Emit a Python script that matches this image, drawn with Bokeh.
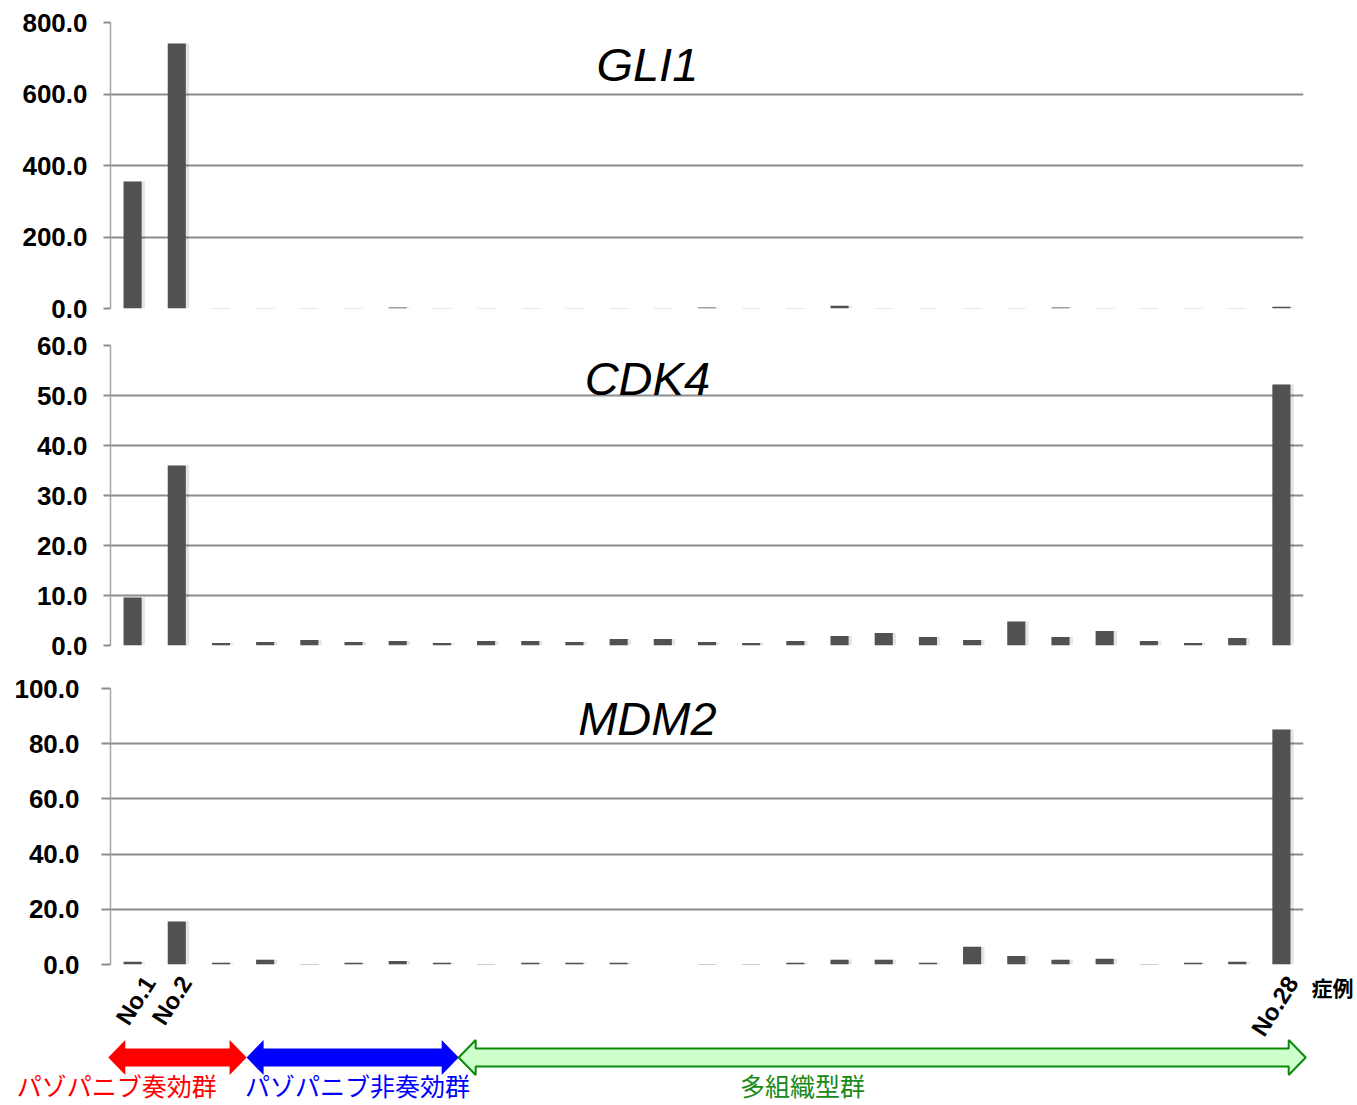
from bokeh.plotting import figure
from bokeh.layouts import column
from bokeh.models import Range1d, FixedTicker, PrintfTickFormatter, Label
from bokeh.transform import dodge
from bokeh.embed import file_html
from bokeh.resources import INLINE

# ---------------- data ----------------
bar_index = list(range(1, 28))          # 27 cases shown (No.1 ... No.28)
gli1 = [355, 741, 1.0, 1.0, 1.0, 1.0, 3.0, 1.0, 1.0, 1.0, 1.0, 1.0, 1.0, 2.5,
        1.0, 1.0, 8.0, 1.0, 1.0, 1.0, 1.0, 2.5, 1.0, 1.0, 1.0, 1.0, 5.0]
cdk4 = [9.6, 36.0, 0.5, 0.7, 1.1, 0.7, 0.9, 0.5, 0.9, 0.9, 0.7, 1.3, 1.3, 0.7,
        0.5, 0.9, 1.9, 2.5, 1.7, 1.1, 4.8, 1.7, 2.9, 0.9, 0.5, 1.5, 52.2]
mdm2 = [1.0, 15.6, 0.6, 1.7, 0.2, 0.6, 1.3, 0.6, 0.2, 0.6, 0.6, 0.6, 0.0, 0.2,
        0.2, 0.6, 1.7, 1.7, 0.6, 6.4, 3.1, 1.7, 2.1, 0.2, 0.6, 1.0, 85.1]
genes = ["GLI1", "CDK4", "MDM2"]
y_max = [800, 60, 100]
y_step = [200, 10, 20]
title_y = [682, 53.4, 89]
title_x = 12.15

case_labels = ["No.1", "No.2", "No.28"]
case_label_bar = [1, 2, 27]
axis_word = "症例"
axis_word_x = 27.18

group_names = ["パゾパニブ奏効群", "パゾパニブ非奏効群", "多組織型群"]
group_start = [-0.05, 3.08, 7.88]
group_end = [3.08, 7.88, 27.05]
group_label_x = [0.14, 5.59, 15.66]
group_fill = ["#ff0000", "#0000ff", "#ccffcc"]
group_text = ["#ff0000", "#0000ff", "#178a17"]

# ---------------- layout ----------------
W = 1357
LEFT = 110
RIGHT = W - 1303
N = len(bar_index)
SCALE = (W - LEFT - RIGHT) / N

panel_top = [22, 19, 22]
panel_frame = [286, 300, 276]
panel_bottom = [18, 21, 16]
standoff = [16, 16, 22]
tick_out = [7, 7, 9]
label_x_offset = [17, 9, 11]

BAR = "#515151"
GRID = "#8c8c8c"

figs = []
for k, vals in enumerate([gli1, cdk4, mdm2]):
    p = figure(width=W, height=panel_top[k] + panel_frame[k] + panel_bottom[k],
               output_backend="svg", toolbar_location=None,
               x_range=Range1d(0, N), y_range=Range1d(0, y_max[k]),
               x_axis_location=None,
               min_border_left=LEFT, min_border_right=RIGHT,
               min_border_top=panel_top[k], min_border_bottom=panel_bottom[k])
    p.outline_line_color = None
    p.xgrid.visible = False
    p.ygrid.grid_line_color = GRID
    p.ygrid.grid_line_width = 2
    ax = p.yaxis[0]
    ax.ticker = FixedTicker(ticks=list(range(0, y_max[k] + 1, y_step[k])))
    ax.formatter = PrintfTickFormatter(format="%.1f")
    ax.axis_line_color = "#a6a6a6"
    ax.axis_line_width = 1.5
    ax.major_tick_line_color = GRID
    ax.major_tick_line_width = 2
    ax.major_tick_out = tick_out[k]
    ax.major_tick_in = 0
    ax.minor_tick_line_color = None
    ax.major_label_standoff = standoff[k]
    ax.major_label_text_font = "Liberation Sans"
    ax.major_label_text_font_style = "bold"
    ax.major_label_text_font_size = "26px"
    ax.major_label_text_color = "#000000"

    xs = [i - 0.5 for i in bar_index]
    p.vbar(x=dodge("x", 0.05, range=p.x_range), top="top", width=0.46, bottom=0,
           source=dict(x=xs, top=vals), fill_color="#000000", fill_alpha=0.10,
           line_color=None)
    p.vbar(x=xs, top=vals, width=0.41, bottom=0, fill_color=BAR, line_color=None)

    p.add_layout(Label(x=title_x, y=title_y[k], text=genes[k],
                       text_font="Liberation Sans", text_font_style="italic",
                       text_font_size="47px", text_align="center",
                       text_baseline="middle", text_color="#000000"))
    figs.append(p)

# ---------------- bottom strip: case labels, group arrows ----------------
OVERLAP = panel_bottom[2]
H4 = 139
p4 = figure(width=W, height=H4, output_backend="svg", toolbar_location=None,
            x_range=Range1d(-LEFT / SCALE, N + RIGHT / SCALE),
            y_range=Range1d(0, H4), x_axis_location=None, y_axis_location=None,
            min_border_left=0, min_border_right=0, min_border_top=0,
            min_border_bottom=0, background_fill_color=None,
            border_fill_color=None)
p4.frame_align = False
p4.margin = (-OVERLAP, 0, 0, 0)
p4.outline_line_color = None
p4.grid.visible = False

for lab, b, off in zip(case_labels, case_label_bar, label_x_offset):
    p4.add_layout(Label(x=b - 0.5, y=125, text=lab, angle=1.0,
                        x_offset=off, text_align="right", text_baseline="middle",
                        text_font="Liberation Sans", text_font_style="bold",
                        text_font_size="24px", text_color="#000000"))
p4.add_layout(Label(x=axis_word_x, y=117, text=axis_word,
                    text_align="left", text_baseline="middle",
                    text_font="Noto Sans CJK JP", text_font_style="bold",
                    text_font_size="21px", text_color="#000000"))

HL = 17 / SCALE
cy, sh, hh = 46, 9, 17.5
axs, ays = [], []
for a, b in zip(group_start, group_end):
    axs.append([a, a + HL, a + HL, b - HL, b - HL, b, b - HL, b - HL, a + HL, a + HL])
    ays.append([cy, cy + hh, cy + sh, cy + sh, cy + hh, cy, cy - hh, cy - sh, cy - sh, cy - hh])
p4.patches(xs=axs[:2], ys=ays[:2], fill_color=group_fill[:2], line_color=None)
p4.patches(xs=axs[2:], ys=ays[2:], fill_color=group_fill[2:], line_color="#0a8a0a",
           line_width=2)

for name, gx, col in zip(group_names, group_label_x, group_text):
    p4.add_layout(Label(x=gx, y=18.5, text=name, text_color=col,
                        text_align="center", text_baseline="middle",
                        text_font="Noto Sans CJK JP", text_font_size="25px"))

layout = column(*figs, p4, spacing=0)
open("out.html", "w").write(file_html(layout, INLINE))
